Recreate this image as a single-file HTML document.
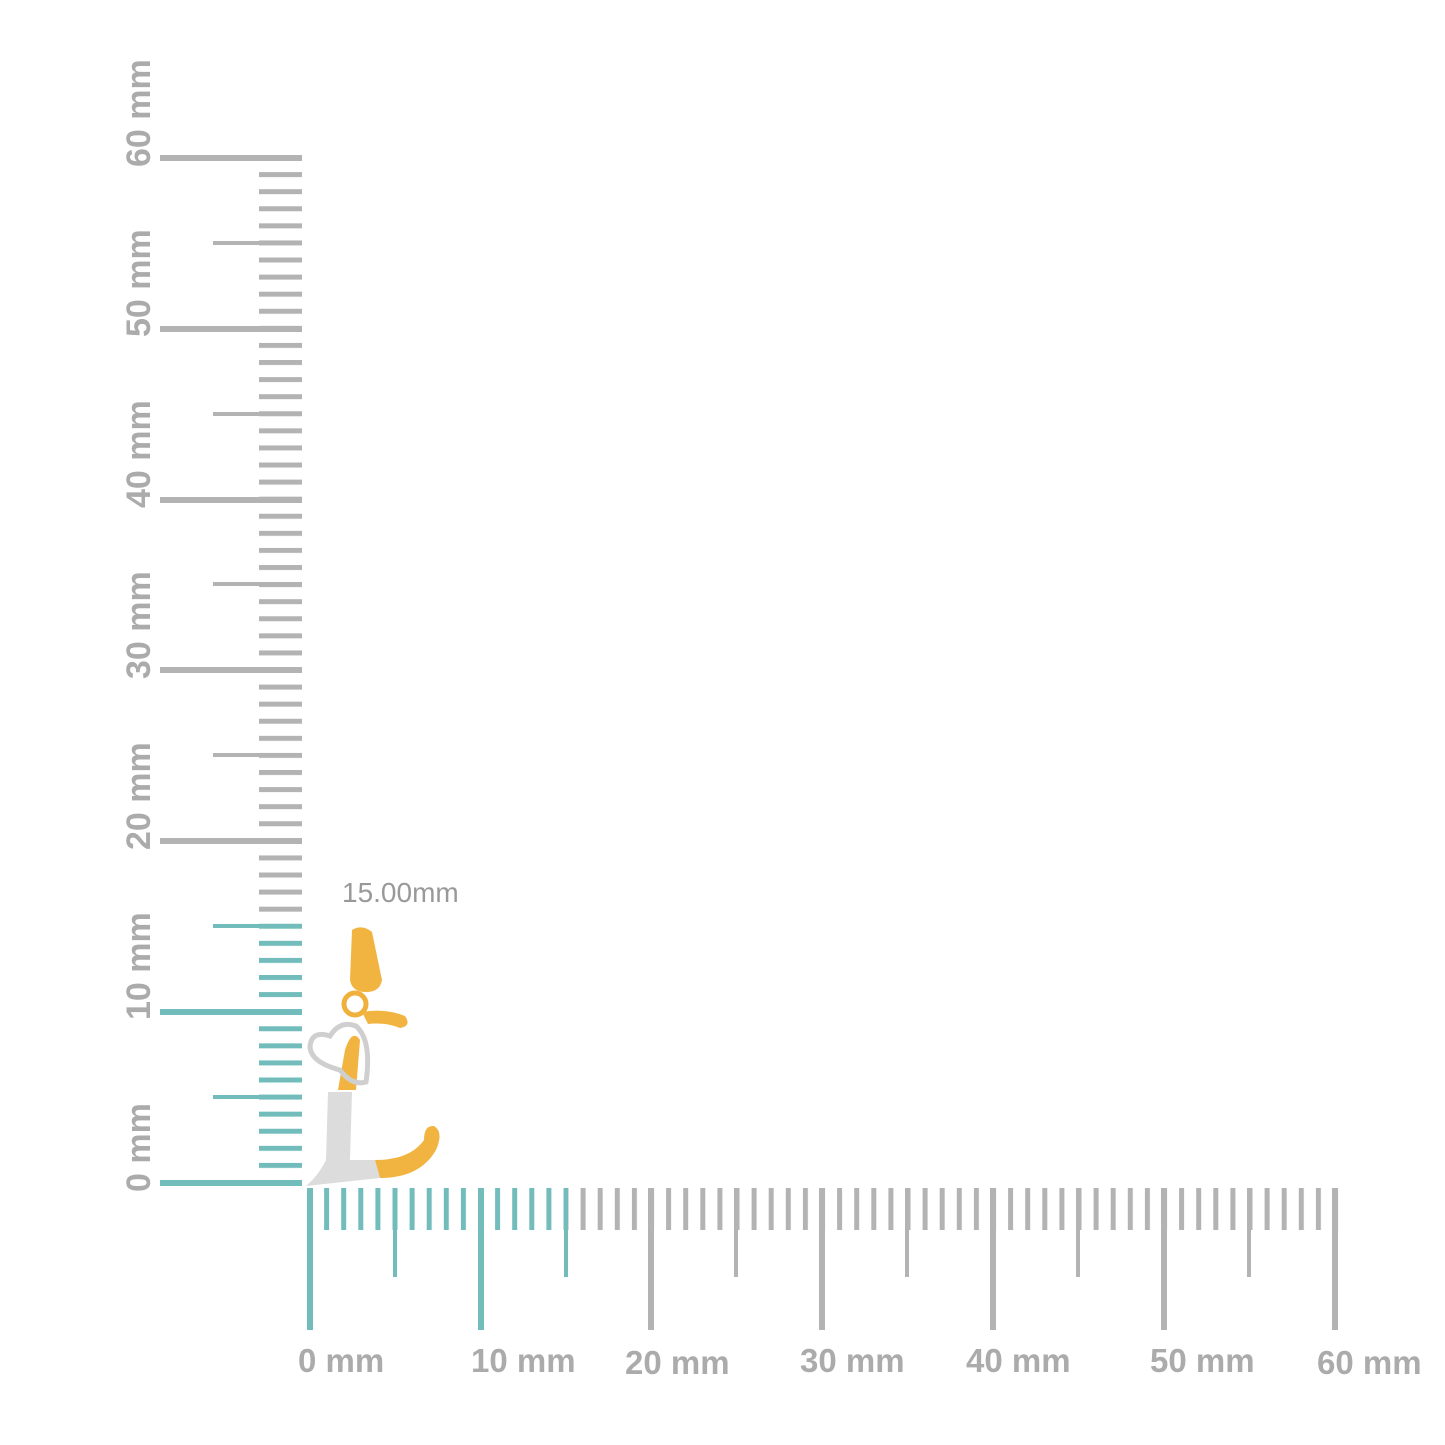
<!DOCTYPE html>
<html><head><meta charset="utf-8"><style>
html,body{margin:0;padding:0;background:#fff}
svg{display:block}
text{font-family:"Liberation Sans",sans-serif;font-weight:bold;fill:#ababab}
</style></head><body>
<svg width="1445" height="1445" viewBox="0 0 1445 1445" xmlns="http://www.w3.org/2000/svg">
<defs>
<pattern id="vg" patternUnits="userSpaceOnUse" x="0" y="1180" width="50" height="17.083"><rect x="0" y="0" width="50" height="5" fill="#b3b3b3"/></pattern>
<pattern id="vt" patternUnits="userSpaceOnUse" x="0" y="1180" width="50" height="17.083"><rect x="0" y="0" width="50" height="5" fill="#72bdbb"/></pattern>
<pattern id="hg" patternUnits="userSpaceOnUse" x="307" y="0" width="17.1" height="50"><rect x="0" y="0" width="5" height="50" fill="#b3b3b3"/></pattern>
<pattern id="ht" patternUnits="userSpaceOnUse" x="307" y="0" width="17.1" height="50"><rect x="0" y="0" width="5" height="50" fill="#72bdbb"/></pattern>
</defs>
<rect x="259" y="150" width="43" height="772" fill="url(#vg)"/>
<rect x="259" y="922" width="43" height="262" fill="url(#vt)"/>
<g fill="#b3b3b3">
<rect x="213" y="241" width="89" height="4"/><rect x="213" y="412" width="89" height="4"/><rect x="213" y="582" width="89" height="4"/><rect x="213" y="753" width="89" height="4"/>
<rect x="160" y="155" width="142" height="6"/><rect x="160" y="326" width="142" height="6"/><rect x="160" y="497" width="142" height="6"/><rect x="160" y="667" width="142" height="6"/><rect x="160" y="838" width="142" height="6"/>
</g>
<g fill="#72bdbb">
<rect x="213" y="924" width="89" height="4"/><rect x="213" y="1095" width="89" height="4"/>
<rect x="160" y="1009" width="142" height="6"/><rect x="160" y="1180" width="142" height="6"/>
</g>
<rect x="307" y="1188" width="258" height="42" fill="url(#ht)"/>
<rect x="565" y="1188" width="774" height="42" fill="url(#hg)"/>
<g fill="#72bdbb">
<rect x="307" y="1188" width="6" height="142"/><rect x="478" y="1188" width="6" height="142"/>
<rect x="393" y="1188" width="4" height="89"/><rect x="564" y="1188" width="4" height="89"/>
</g>
<g fill="#b3b3b3">
<rect x="734" y="1188" width="4" height="89"/><rect x="905" y="1188" width="4" height="89"/><rect x="1076" y="1188" width="4" height="89"/><rect x="1247" y="1188" width="4" height="89"/>
<rect x="648" y="1188" width="6" height="142"/><rect x="819" y="1188" width="6" height="142"/><rect x="990" y="1188" width="6" height="142"/><rect x="1161" y="1188" width="6" height="142"/><rect x="1332" y="1188" width="6" height="142"/>
</g>
<g font-size="34">
<text transform="translate(150,1192) rotate(-90)">0 mm</text>
<text transform="translate(150,1020) rotate(-90)">10 mm</text>
<text transform="translate(150,850) rotate(-90)">20 mm</text>
<text transform="translate(150,679) rotate(-90)">30 mm</text>
<text transform="translate(150,508) rotate(-90)">40 mm</text>
<text transform="translate(150,337) rotate(-90)">50 mm</text>
<text transform="translate(150,167) rotate(-90)">60 mm</text>
</g>
<g font-size="33">
<text x="298" y="1372">0 mm</text>
<text x="471" y="1372">10 mm</text>
<text x="625" y="1374">20 mm</text>
<text x="800" y="1372">30 mm</text>
<text x="966" y="1372">40 mm</text>
<text x="1150" y="1372">50 mm</text>
<text x="1317" y="1374">60 mm</text>
</g>
<text x="342" y="902" font-size="28" style="font-weight:normal;fill:#999">15.00mm</text>
<g>
<path d="M352,930 Q362,924 372,932 L382,980 Q380,992 366,992 Q352,992 350,980 Z" fill="#f2b440"/>
<circle cx="355" cy="1004" r="11" fill="none" stroke="#efb03c" stroke-width="5"/>
<path d="M362,1012 Q385,1008 405,1016 Q412,1026 400,1028 Q385,1022 368,1024 Z" fill="#f2b440"/>
<path d="M338,1090 L345,1050 Q352,1028 360,1040 L356,1090 Z" fill="#f2b440"/>
<path d="M340,1070 Q310,1062 310,1046 Q312,1030 330,1036 Q340,1020 356,1026 Q372,1040 366,1082 Q352,1086 340,1070 Z" fill="none" stroke="#cfcfcf" stroke-width="5"/>
<path d="M328,1092 L352,1092 L350,1160 L375,1160 L380,1178 L306,1186 Q318,1176 326,1160 Z" fill="#dcdcdc"/>
<path d="M375,1160 Q410,1160 424,1140 Q424,1125 434,1126 Q444,1132 436,1150 Q420,1178 380,1178 Z" fill="#f2b440"/>
</g>
</svg>
</body></html>
